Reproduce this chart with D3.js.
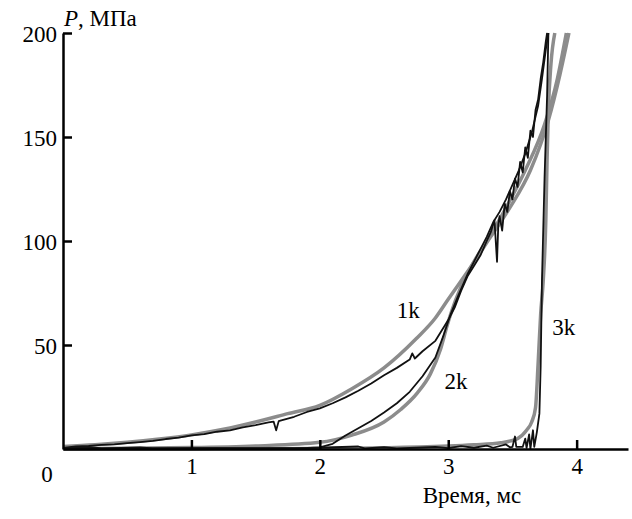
<!DOCTYPE html>
<html>
<head>
<meta charset="utf-8">
<script src="https://cdn.jsdelivr.net/npm/d3@7"></script>
<style>
  body { margin: 0; background: #fff; }
  svg { display: block; }
</style>
</head>
<body>
<svg id="chart" width="632" height="519"></svg>
<script>
// time, ms / pressure, MPa

// fitted curves (gray)
const fit1k = [[0,1.2],[0.25,2],[0.5,3.2],[0.75,4.8],[1,6.8],[1.25,9.5],[1.5,13],[1.75,17],[2,21],
  [2.25,29],[2.5,39],[2.75,53],[2.9,63],[3,72],[3.17,87],[3.33,102],[3.48,116],[3.64,134],
  [3.78,158],[3.87,180],[3.94,200]];
const fit2k = [[0,0.2],[0.5,0.4],[1,0.7],[1.5,1.5],[2,3.2],[2.25,6.7],[2.5,13],[2.63,19],[2.76,27],
  [2.86,36],[2.94,48],[2.99,59],[3.02,65],[3.1,78],[3.2,90],[3.3,100],[3.45,116],[3.6,134],
  [3.75,156],[3.85,178],[3.92,200]];
const fit3k = [[0,0],[1,0.05],[2,0.2],[3,1.4],[3.2,2],[3.41,3],[3.54,5],[3.61,9],[3.65,13],
  [3.68,20],[3.7,41],[3.72,65],[3.74,81],[3.76,110],[3.77,140],[3.78,163],[3.8,185],[3.83,200]];

// measured curves (black)
const data1k = [[0,0.5],[0.1,1.2],[0.2,1.5],[0.3,2.0],[0.4,2.2],[0.5,2.8],[0.6,3.3],[0.7,3.9],
  [0.8,4.8],[0.9,5.5],[1.0,6.6],[1.1,7.2],[1.2,8.3],[1.3,9.0],[1.4,10.4],[1.5,11.5],[1.6,12.8],
  [1.64,13.2],[1.66,9.0],[1.68,13.4],[1.7,13.8],[1.8,15.5],[1.9,17.8],[2.0,19.5],[2.1,22],
  [2.2,24.8],[2.3,28],[2.4,31.5],[2.5,35.5],[2.6,39],[2.7,43],[2.72,46],[2.74,43.5],[2.8,47],
  [2.9,52],[3.0,62],[3.05,68],[3.1,76],[3.15,83],[3.2,88],[3.25,93],[3.3,100],[3.33,104],
  [3.36,110],[3.38,90],[3.39,108],[3.4,112],[3.42,105],[3.44,118],[3.46,114],[3.48,124],
  [3.5,120],[3.52,130],[3.54,126],[3.56,138],[3.58,133],[3.6,145],[3.62,140],[3.64,153],
  [3.66,150],[3.68,163],[3.7,168],[3.72,178],[3.74,186],[3.76,196],[3.77,200]];
const data2k = [[0,0.3],[0.5,0.3],[1,0.4],[1.5,0.3],[1.9,0.5],[2.0,0.8],[2.1,2.5],[2.2,6.5],
  [2.3,10],[2.4,13.5],[2.5,17.5],[2.6,22],[2.7,27.5],[2.8,35],[2.9,44],[2.96,54],[3.02,65],
  [3.08,74],[3.15,84],[3.2,90],[3.25,96],[3.3,102],[3.35,109],[3.4,114],[3.45,120],[3.5,127],
  [3.55,134],[3.6,142],[3.65,152],[3.7,165],[3.73,178],[3.76,192],[3.78,200]];
const data3k = [[0,0.3],[0.2,1.0],[0.3,0.3],[0.6,0.8],[0.7,0.3],[1.2,0.4],[1.8,0.3],[2.3,1.2],
  [2.35,0.3],[2.5,0.9],[2.6,0.3],[2.9,1.0],[3.0,0.4],[3.1,1.4],[3.2,0.6],[3.3,1.6],[3.35,0.6],
  [3.45,2.2],[3.48,0.8],[3.5,1],[3.52,6],[3.53,1],[3.58,1],[3.6,5],[3.61,0.5],[3.63,7],[3.64,0],
  [3.66,9],[3.67,1],[3.69,8],[3.71,17],[3.72,40],[3.73,81],[3.75,130],[3.77,170],[3.78,200]];

const xTicks = [1, 2, 3, 4];
const yTicks = [50, 100, 150, 200];
const curveLabels = [
  { text: "1k", t: 2.6, p: 63 },
  { text: "2k", t: 2.97, p: 29 },
  { text: "3k", t: 3.81, p: 55 },
];

const FONT = "Liberation Serif";
const FS = 23;

const svg = d3.select("#chart");
const x = d3.scaleLinear().domain([0, 4.4]).range([63, 628]);
const y = d3.scaleLinear().domain([0, 200]).range([449, 33]);

const smooth = d3.line().x((d) => x(d[0])).y((d) => y(d[1])).curve(d3.curveMonotoneX);
const raw = d3.line().x((d) => x(d[0])).y((d) => y(d[1]));

const gFit = svg.append("g").attr("fill", "none").attr("stroke", "#8c8c8c")
  .attr("stroke-width", 3.5).attr("stroke-linejoin", "round");
[fit1k, fit2k, fit3k].forEach((s) => gFit.append("path").attr("d", smooth(s)));

const gData = svg.append("g").attr("fill", "none").attr("stroke", "#111")
  .attr("stroke-width", 1.8).attr("stroke-linejoin", "round");
[data1k, data2k, data3k].forEach((s) => gData.append("path").attr("d", raw(s)));

// axes, ticks point inward
const xAxis = svg.append("g").attr("transform", "translate(0,449)")
  .call(d3.axisBottom(x).tickValues(xTicks).tickFormat(d3.format("d"))
    .tickSizeInner(-9).tickSizeOuter(0).tickPadding(8));
const yAxis = svg.append("g").attr("transform", "translate(63,0)")
  .call(d3.axisLeft(y).tickValues(yTicks).tickFormat(d3.format("d"))
    .tickSizeInner(-9).tickSizeOuter(0).tickPadding(6));

[xAxis, yAxis].forEach((a) => {
  a.selectAll("path, line").attr("stroke", "#000").attr("stroke-width", 2.5);
  a.selectAll("text").attr("fill", "#000")
    .style("font-family", FONT).attr("font-size", FS);
});
xAxis.selectAll("text").attr("dy", "0.72em");
yAxis.selectAll("text").attr("dy", "0.38em");

function label(xp, yp, anchor) {
  return svg.append("text")
    .attr("x", xp).attr("y", yp)
    .attr("text-anchor", anchor).attr("fill", "#000")
    .style("font-family", FONT).attr("font-size", FS);
}

label(47, 482, "middle").text("0");
label(472, 503, "middle").text("Время, мс");

const pLabel = label(64, 26, "start");
pLabel.append("tspan").style("font-style", "italic").text("P");
pLabel.append("tspan").text(", МПа");

curveLabels.forEach((d) => label(x(d.t), y(d.p), "start").text(d.text));
</script>
</body>
</html>
